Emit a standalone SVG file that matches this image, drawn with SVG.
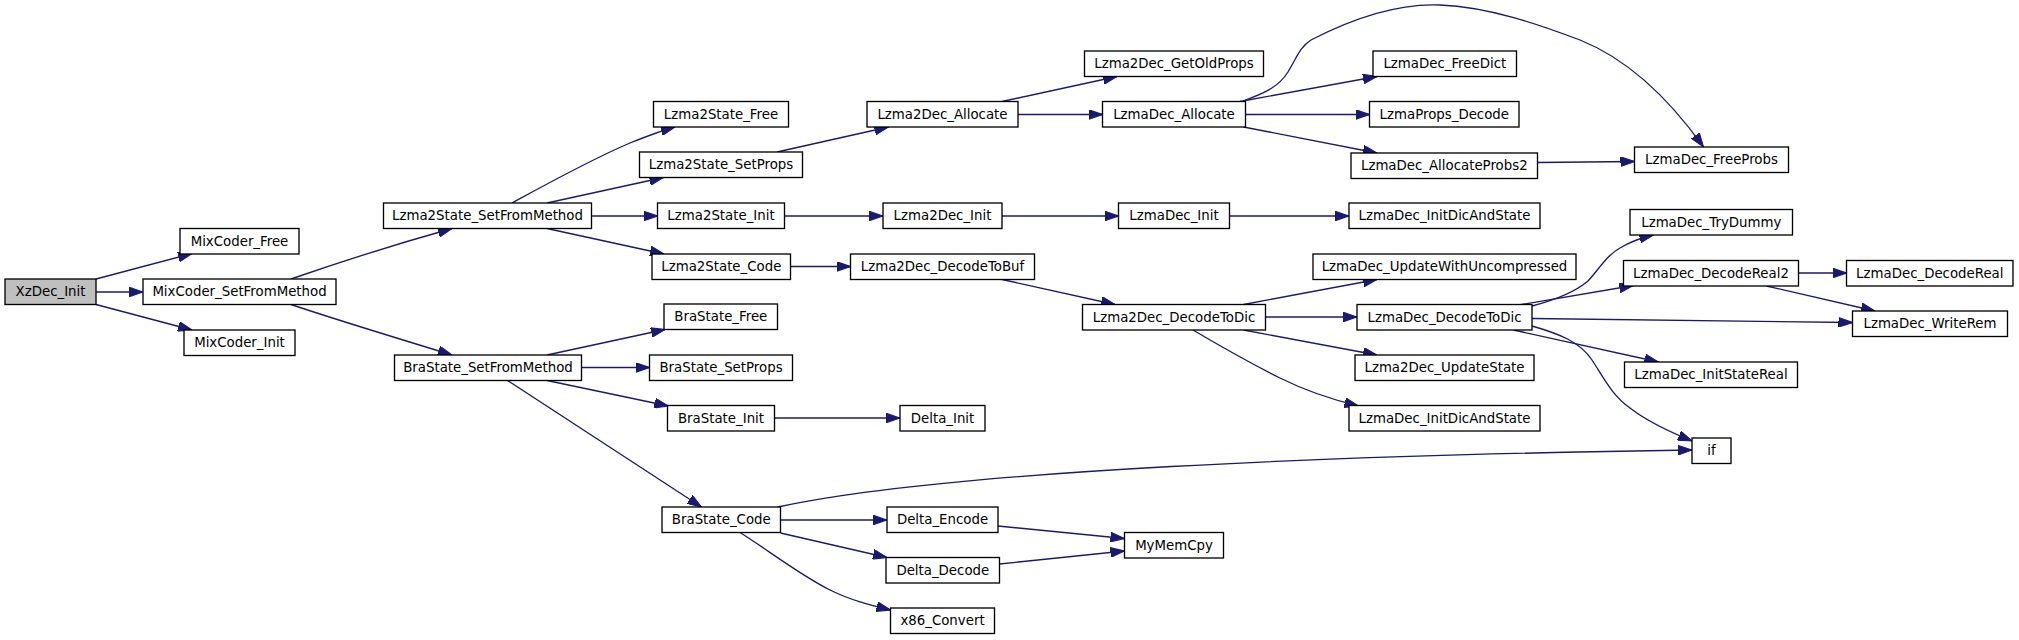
<svg xmlns="http://www.w3.org/2000/svg" width="2019" height="640" viewBox="0 0 2019 640">
<style>
.n rect{fill:#fff;stroke:#000;stroke-width:1.33}
.n.root rect{fill:#bfbfbf}
.n text{font-family:"DejaVu Sans","Liberation Sans",sans-serif;font-size:13.33px;fill:#000;text-anchor:middle}
.e path{fill:none;stroke:#191970;stroke-width:1.33;marker-end:url(#ah)}
</style>
<defs>
<marker id="ah" markerUnits="userSpaceOnUse" markerWidth="14" markerHeight="10" viewBox="0 0 13 9" refX="13" refY="4.5" orient="auto">
<path d="M0,0 L13,4.5 L0,9 z" fill="#191970" stroke="#191970" stroke-width="1"/>
</marker>
</defs>
<rect width="2019" height="640" fill="#fff"/>
<g id="connectors" class="e">
<path d="M96,279 L192,253.5"/>
<path d="M96,292 L143,292"/>
<path d="M96,304.5 L192,330"/>
<path d="M291,279 C340,262 400,243 452,228.5"/>
<path d="M291,304.5 C340,321 400,339 452,355"/>
<path d="M512,203 C545,185 590,160 630,143 C645,137 660,131 675,127"/>
<path d="M547,203 L663.5,177.5"/>
<path d="M591.5,216 L657.5,216"/>
<path d="M547,228.5 L664,254"/>
<path d="M777,152 L888.5,127"/>
<path d="M1002,101.5 L1117,76.5"/>
<path d="M1018,114.5 L1102.5,114.5"/>
<path d="M1240,101.5 L1377,76.5"/>
<path d="M1245.5,114.5 L1369.5,114.5"/>
<path d="M1243.5,127 L1377,153"/>
<path d="M1243,101 C1262,94 1278,88 1288,72 C1297,57 1300,47 1311,40 C1340,25 1390,3 1440,5 C1490,7 1540,25 1580,40 C1630,60 1670,100 1703.5,147"/>
<path d="M1537.5,162.5 L1634.5,161.5"/>
<path d="M784.5,216 L883,216"/>
<path d="M1002,216 L1118.5,216"/>
<path d="M1229.5,216 L1349,216"/>
<path d="M790.5,266.5 L850.5,266.5"/>
<path d="M1002,279.5 L1115,304.5"/>
<path d="M1243.5,304.5 L1377,279.5"/>
<path d="M1265.5,317 L1357,317"/>
<path d="M1243.5,330 L1377,355"/>
<path d="M1193,330 C1215,343 1250,363 1280,378 C1300,388 1330,399 1358.5,406"/>
<path d="M1532,306 C1555,300 1575,292 1588,281 C1600,268 1606,256 1620,248 C1630,242 1640,238 1653.5,235"/>
<path d="M1521.5,304.5 L1633.5,285.5"/>
<path d="M1532,318.5 L1852.5,322.5"/>
<path d="M1513.5,330 L1658.5,362"/>
<path d="M1532,326 C1560,334 1580,342 1592,360 C1605,380 1612,395 1630,408 C1648,422 1670,432 1692,441"/>
<path d="M1798.5,273 L1846.5,273"/>
<path d="M1766.5,286 L1875,311"/>
<path d="M547,355 L665,329.5"/>
<path d="M581.5,367.5 L649.5,367.5"/>
<path d="M547,380.5 L668.5,406"/>
<path d="M507.5,380.5 L701.5,507"/>
<path d="M774.5,418 L900,418"/>
<path d="M778,507 C950,470 1350,455 1692,450"/>
<path d="M780.5,520 L887,520"/>
<path d="M780.5,533 L887,557.5"/>
<path d="M740,532.5 C765,548 800,575 830,590 C850,600 870,605 890.5,610"/>
<path d="M998,526 L1124.5,538.5"/>
<path d="M999.5,564 L1124.5,551"/>
</g>
<g id="XzDec_Init" class="n root"><rect x="5" y="279" width="91" height="25.5"/><text x="50.5" y="296.3">XzDec_Init</text></g>
<g id="MixCoder_Free" class="n"><rect x="180" y="228.5" width="119" height="25.5"/><text x="239.5" y="245.8">MixCoder_Free</text></g>
<g id="MixCoder_SetFromMethod" class="n"><rect x="143" y="279" width="193" height="25.5"/><text x="239.5" y="296.3">MixCoder_SetFromMethod</text></g>
<g id="MixCoder_Init" class="n"><rect x="184" y="330" width="111" height="25.5"/><text x="239.5" y="347.3">MixCoder_Init</text></g>
<g id="Lzma2State_SetFromMethod" class="n"><rect x="383.5" y="203" width="208" height="25.5"/><text x="487.5" y="220.3">Lzma2State_SetFromMethod</text></g>
<g id="BraState_SetFromMethod" class="n"><rect x="394.5" y="355" width="187" height="25.5"/><text x="488" y="372.3">BraState_SetFromMethod</text></g>
<g id="Lzma2State_Free" class="n"><rect x="653.5" y="101.5" width="135" height="25.5"/><text x="721" y="118.8">Lzma2State_Free</text></g>
<g id="Lzma2State_SetProps" class="n"><rect x="639.5" y="152" width="163" height="25.5"/><text x="721" y="169.3">Lzma2State_SetProps</text></g>
<g id="Lzma2State_Init" class="n"><rect x="657.5" y="203" width="127" height="25.5"/><text x="721" y="220.3">Lzma2State_Init</text></g>
<g id="Lzma2State_Code" class="n"><rect x="652" y="254" width="138.5" height="25.5"/><text x="721.3" y="271.3">Lzma2State_Code</text></g>
<g id="BraState_Free" class="n"><rect x="664" y="304" width="113.5" height="25.5"/><text x="720.8" y="321.3">BraState_Free</text></g>
<g id="BraState_SetProps" class="n"><rect x="649.5" y="355" width="143" height="25.5"/><text x="721" y="372.3">BraState_SetProps</text></g>
<g id="BraState_Init" class="n"><rect x="667.5" y="405.5" width="107" height="25.5"/><text x="721" y="422.8">BraState_Init</text></g>
<g id="BraState_Code" class="n"><rect x="662" y="507" width="118.5" height="25.5"/><text x="721.3" y="524.3">BraState_Code</text></g>
<g id="Lzma2Dec_Allocate" class="n"><rect x="867" y="101.5" width="151" height="25.5"/><text x="942.5" y="118.8">Lzma2Dec_Allocate</text></g>
<g id="Lzma2Dec_GetOldProps" class="n"><rect x="1084.5" y="51" width="179" height="25.5"/><text x="1174" y="68.3">Lzma2Dec_GetOldProps</text></g>
<g id="LzmaDec_Allocate" class="n"><rect x="1102.5" y="101.5" width="143" height="25.5"/><text x="1174" y="118.8">LzmaDec_Allocate</text></g>
<g id="Lzma2Dec_Init" class="n"><rect x="883" y="203" width="119" height="25.5"/><text x="942.5" y="220.3">Lzma2Dec_Init</text></g>
<g id="LzmaDec_Init" class="n"><rect x="1118.5" y="203" width="111" height="25.5"/><text x="1174" y="220.3">LzmaDec_Init</text></g>
<g id="Lzma2Dec_DecodeToBuf" class="n"><rect x="850.5" y="254" width="184" height="25.5"/><text x="942.5" y="271.3">Lzma2Dec_DecodeToBuf</text></g>
<g id="Lzma2Dec_DecodeToDic" class="n"><rect x="1082.5" y="304.5" width="183" height="25.5"/><text x="1174" y="321.8">Lzma2Dec_DecodeToDic</text></g>
<g id="Delta_Init" class="n"><rect x="900" y="405.5" width="85" height="25.5"/><text x="942.5" y="422.8">Delta_Init</text></g>
<g id="Delta_Encode" class="n"><rect x="887" y="507" width="111" height="25.5"/><text x="942.5" y="524.3">Delta_Encode</text></g>
<g id="Delta_Decode" class="n"><rect x="886" y="557.5" width="113.5" height="25.5"/><text x="942.8" y="574.8">Delta_Decode</text></g>
<g id="MyMemCpy" class="n"><rect x="1124.5" y="532.5" width="99" height="25.5"/><text x="1174" y="549.8">MyMemCpy</text></g>
<g id="x86_Convert" class="n"><rect x="890.5" y="608" width="104" height="25.5"/><text x="942.5" y="625.3">x86_Convert</text></g>
<g id="LzmaDec_FreeDict" class="n"><rect x="1373" y="51" width="143.5" height="25.5"/><text x="1444.8" y="68.3">LzmaDec_FreeDict</text></g>
<g id="LzmaProps_Decode" class="n"><rect x="1369.5" y="101.5" width="149.5" height="25.5"/><text x="1444.3" y="118.8">LzmaProps_Decode</text></g>
<g id="LzmaDec_AllocateProbs2" class="n"><rect x="1351" y="153" width="186.5" height="25.5"/><text x="1444.3" y="170.3">LzmaDec_AllocateProbs2</text></g>
<g id="LzmaDec_FreeProbs" class="n"><rect x="1634.5" y="147" width="154" height="25.5"/><text x="1711.5" y="164.3">LzmaDec_FreeProbs</text></g>
<g id="LzmaDec_InitDicAndState_1" class="n"><rect x="1349" y="203" width="191" height="25.5"/><text x="1444.5" y="220.3">LzmaDec_InitDicAndState</text></g>
<g id="LzmaDec_UpdateWithUncompressed" class="n"><rect x="1313" y="254" width="263" height="25.5"/><text x="1444.5" y="271.3">LzmaDec_UpdateWithUncompressed</text></g>
<g id="LzmaDec_DecodeToDic" class="n"><rect x="1357" y="304.5" width="175" height="25.5"/><text x="1444.5" y="321.8">LzmaDec_DecodeToDic</text></g>
<g id="Lzma2Dec_UpdateState" class="n"><rect x="1355" y="355" width="179" height="25.5"/><text x="1444.5" y="372.3">Lzma2Dec_UpdateState</text></g>
<g id="LzmaDec_InitDicAndState_2" class="n"><rect x="1349" y="405.5" width="191" height="25.5"/><text x="1444.5" y="422.8">LzmaDec_InitDicAndState</text></g>
<g id="if" class="n"><rect x="1692" y="438" width="39" height="25.5"/><text x="1711.5" y="455.3">if</text></g>
<g id="LzmaDec_TryDummy" class="n"><rect x="1630" y="209.5" width="162.5" height="25.5"/><text x="1711.3" y="226.8">LzmaDec_TryDummy</text></g>
<g id="LzmaDec_DecodeReal2" class="n"><rect x="1623.5" y="260.5" width="175" height="25.5"/><text x="1711" y="277.8">LzmaDec_DecodeReal2</text></g>
<g id="LzmaDec_InitStateReal" class="n"><rect x="1624.5" y="362" width="173" height="25.5"/><text x="1711" y="379.3">LzmaDec_InitStateReal</text></g>
<g id="LzmaDec_DecodeReal" class="n"><rect x="1846.5" y="260.5" width="166.5" height="25.5"/><text x="1929.8" y="277.8">LzmaDec_DecodeReal</text></g>
<g id="LzmaDec_WriteRem" class="n"><rect x="1852.5" y="311" width="155" height="25.5"/><text x="1930" y="328.3">LzmaDec_WriteRem</text></g>
</svg>
